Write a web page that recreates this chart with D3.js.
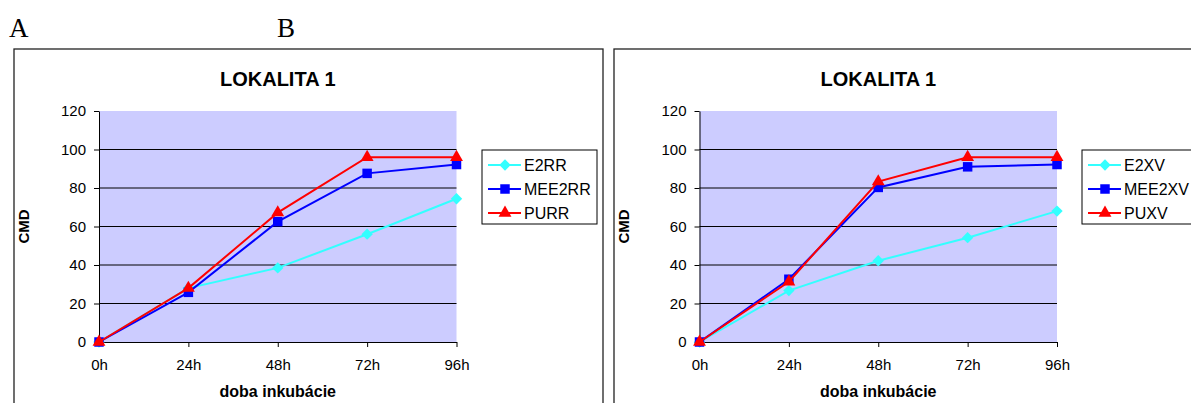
<!DOCTYPE html>
<html><head><meta charset="utf-8">
<script src="https://cdn.jsdelivr.net/npm/d3@7"></script>
<style>html,body{margin:0;padding:0;background:#fff;}svg{display:block;}</style>
</head><body>
<svg id="c" width="1191" height="403"></svg>
<script>
const categories = ["0h", "24h", "48h", "72h", "96h"];
const yTicks = [0, 20, 40, 60, 80, 100, 120];
const chartTitle = "LOKALITA 1";
const xTitle = "doba inkubácie";
const yTitle = "CMD";
const panelLabels = ["A", "B"];

const seriesNamesA = ["E2RR", "MEE2RR", "PURR"];
const e2rr   = [0, 28, 38.5, 56, 74.4];
const mee2rr = [0, 25.8, 62.5, 87.6, 92.2];
const purr   = [0, 28, 67.2, 96, 96];

const seriesNamesB = ["E2XV", "MEE2XV", "PUXV"];
const e2xv   = [0, 26.7, 42.2, 54.2, 68];
const mee2xv = [0, 32.6, 80.3, 91, 92.2];
const puxv   = [0, 31.3, 83.3, 96, 96];

const colors = ["#33FFFF", "#0000FF", "#FF0000"];

const svg = d3.select("#c");
const font = "'Liberation Sans', Arial, sans-serif";
const serif = "'Liberation Serif', 'Times New Roman', serif";

function marker(sel, si) {
  if (si === 0) {
    sel.attr("d", d3.symbol().type(d3.symbolSquare).size(64)());
    sel.attr("transform", function () { return this.getAttribute("transform") + " rotate(45)"; });
  } else if (si === 1) {
    sel.attr("d", d3.symbol().type(d3.symbolSquare).size(90)());
  } else {
    sel.attr("d", d3.symbol().type(d3.symbolTriangle).size(72)());
  }
  sel.attr("fill", colors[si]);
}

// panel labels
svg.append("text").attr("x", 9).attr("y", 37).text(panelLabels[0])
  .attr("font-family", serif).attr("font-size", 27);
svg.append("text").attr("x", 277).attr("y", 37).text(panelLabels[1])
  .attr("font-family", serif).attr("font-size", 27);

function drawPanel(p) {
  const g = svg.append("g");
  g.append("rect").attr("x", p.fx).attr("y", p.fy).attr("width", p.fw).attr("height", p.fh)
    .attr("fill", "#fff").attr("stroke", "#222").attr("stroke-width", 1.3);

  const x = d3.scalePoint().domain(categories).range([p.x0, p.x1]);
  const y = d3.scaleLinear().domain([0, 120]).range([p.yb, p.yt]);

  g.append("rect").attr("x", p.x0).attr("y", p.yt).attr("width", p.x1 - p.x0).attr("height", p.yb - p.yt)
    .attr("fill", "#CCCCFF");
  g.selectAll(".grid").data(yTicks.filter(v => v > 0 && v < 120)).join("line")
    .attr("x1", p.x0).attr("x2", p.x1).attr("y1", d => y(d)).attr("y2", d => y(d))
    .attr("stroke", "#000").attr("stroke-width", 1);

  const ya = g.append("g").attr("transform", `translate(${p.x0},0)`)
    .call(d3.axisLeft(y).tickValues(yTicks).tickSize(5).tickSizeOuter(0).tickPadding(8));
  ya.select(".domain").attr("stroke", "#000");
  ya.selectAll("text").attr("font-family", font).attr("font-size", 15).attr("fill", "#000");

  const xa = g.append("g").attr("transform", `translate(0,${p.yb})`)
    .call(d3.axisBottom(x).tickSize(5).tickSizeOuter(0).tickPadding(12));
  xa.select(".domain").attr("stroke", "#000");
  xa.selectAll("text").attr("font-family", font).attr("font-size", 15).attr("fill", "#000");

  g.append("text").attr("x", (p.x0 + p.x1) / 2).attr("y", 86).attr("text-anchor", "middle")
    .attr("font-family", font).attr("font-weight", "bold").attr("font-size", 20).text(chartTitle);
  g.append("text").attr("x", (p.x0 + p.x1) / 2).attr("y", 397).attr("text-anchor", "middle")
    .attr("font-family", font).attr("font-weight", "bold").attr("font-size", 16).text(xTitle);
  g.append("text").attr("transform", `translate(${p.ylx},${(p.yt + p.yb) / 2}) rotate(-90)`)
    .attr("text-anchor", "middle").attr("font-family", font).attr("font-weight", "bold")
    .attr("font-size", 15).text(yTitle);

  const line = d3.line().x((d, i) => x(categories[i])).y(d => y(d));
  p.series.forEach((vals, si) => {
    g.append("path").datum(vals).attr("d", line).attr("fill", "none")
      .attr("stroke", colors[si]).attr("stroke-width", 2);
    g.selectAll(null).data(vals).join("path")
      .attr("transform", (d, i) => `translate(${x(categories[i])},${y(d)})`)
      .call(marker, si);
  });

  const lg = g.append("g");
  lg.append("rect").attr("x", p.lx).attr("y", 150).attr("width", p.lw).attr("height", 74)
    .attr("fill", "#fff").attr("stroke", "#000").attr("stroke-width", 1);
  p.names.forEach((n, si) => {
    const cy = 165 + si * 24;
    lg.append("line").attr("x1", p.lx + 6).attr("x2", p.lx + 39).attr("y1", cy).attr("y2", cy)
      .attr("stroke", colors[si]).attr("stroke-width", 2);
    lg.append("path").attr("transform", `translate(${p.lx + 23},${cy})`).call(marker, si);
    lg.append("text").attr("x", p.lx + 42).attr("y", cy + 6).attr("font-family", font)
      .attr("font-size", 16).text(n);
  });
}

drawPanel({fx: 14, fy: 49, fw: 589, fh: 380, x0: 99, x1: 456.5, yt: 111, yb: 342, ylx: 29,
  lx: 482, lw: 115, names: seriesNamesA, series: [e2rr, mee2rr, purr]});
drawPanel({fx: 614, fy: 49, fw: 600, fh: 380, x0: 699.5, x1: 1057, yt: 111, yb: 342, ylx: 629,
  lx: 1082, lw: 125, names: seriesNamesB, series: [e2xv, mee2xv, puxv]});
</script>
</body></html>
